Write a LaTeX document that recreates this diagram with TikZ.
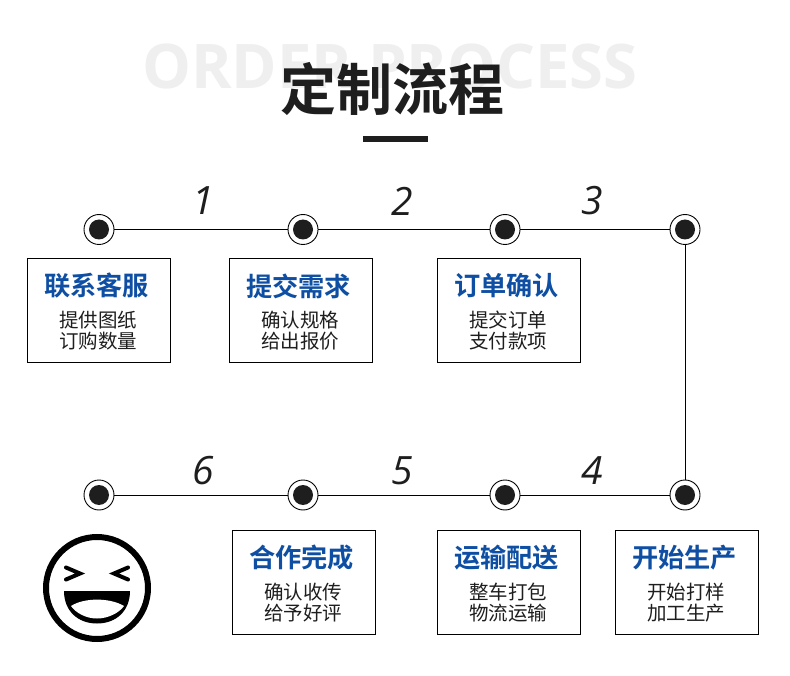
\documentclass[tikz,border=0pt]{standalone}
\usepackage{fontspec}
\setmainfont{Open Sans}
\newfontfamily\cjk{Noto Sans CJK SC}[BoldFont={Noto Sans CJK SC Bold},Scale=1]
\newfontfamily\num{Open Sans}
\definecolor{ink}{HTML}{1E1E1E}
\definecolor{headblue}{HTML}{0F4FA3}
\definecolor{ghost}{HTML}{EFEFEF}
\tikzset{
  stepdot/.style={circle,draw=black,line width=0.9pt,fill=white,minimum size=30pt,inner sep=0pt,
    path picture={\fill[ink] (path picture bounding box.center) circle (10pt);}},
  infobox/.style={draw=black,line width=1pt,fill=white,minimum width=143pt,minimum height=104pt,inner sep=0pt},
  link/.style={draw=black,line width=1pt},
  numlabel/.style={font=\fontsize{39}{39}\selectfont\num\itshape,text=ink,inner sep=0pt},
  boxhead/.style={font=\fontsize{26.2}{26.2}\selectfont\cjk\bfseries,text=headblue,inner sep=0pt},
  boxsub/.style={font=\fontsize{19.5}{21}\selectfont\cjk,text=ink,inner sep=0pt,align=center},
}
\begin{document}
\begin{tikzpicture}[x=1pt,y=-1pt]
\useasboundingbox[fill=white] (0,0) rectangle (790,676);
% title
\node[inner sep=0pt,text=ghost,font=\fontsize{61.5}{61.5}\selectfont\bfseries] (ghosttitle) at (390,67) {ORDER PROCESS};
\node[inner sep=0pt,text=ink,font=\fontsize{56}{56}\selectfont\cjk\bfseries] (title) at (392,89) {定制流程};
\fill[ink] (363,136) rectangle (428,142);
% step dots
\node[stepdot] (d1) at (99,229.5) {};
\node[stepdot] (d2) at (303,229.5) {};
\node[stepdot] (d3) at (505,229.5) {};
\node[stepdot] (d4) at (685,229.5) {};
\node[stepdot] (d5) at (685,495) {};
\node[stepdot] (d6) at (505,495) {};
\node[stepdot] (d7) at (303,495) {};
\node[stepdot] (d8) at (99,495) {};
% connectors
\draw[link] (d1) -- (d2);
\draw[link] (d2) -- (d3);
\draw[link] (d3) -- (d4);
\draw[link] (d4) -- (d5);
\draw[link] (d5) -- (d6);
\draw[link] (d6) -- (d7);
\draw[link] (d7) -- (d8);
% numbers
\node[numlabel] (n1) at (203,201) {1};
\node[numlabel] (n2) at (402,201) {2};
\node[numlabel] (n3) at (592,201) {3};
\node[numlabel] (n4) at (592,471) {4};
\node[numlabel] (n5) at (402,471) {5};
\node[numlabel] (n6) at (203,471) {6};
% boxes
\newcommand{\stepbox}[6]{%
  \node[infobox] (#1) at (#2,#3) {};
  \node[boxhead] (#1h) at (#2-2.5,#3-24.5) {#4};
  \node[boxsub] (#1a) at (#2-1,#3+10) {#5};
  \node[boxsub] (#1b) at (#2-1,#3+31) {#6};
}
\stepbox{b1}{99}{310.5}{联系客服}{提供图纸}{订购数量}
\stepbox{b2}{301}{310.5}{提交需求}{确认规格}{给出报价}
\stepbox{b3}{509}{310.5}{订单确认}{提交订单}{支付款项}
\stepbox{b4}{687}{582.5}{开始生产}{开始打样}{加工生产}
\stepbox{b5}{509}{582.5}{运输配送}{整车打包}{物流运输}
\stepbox{b6}{304}{582.5}{合作完成}{确认收传}{给予好评}
% face
\draw[black,line width=6pt] (97,588) circle (51pt);
\draw[black,line width=4pt,line cap=round,line join=miter] (66,567.5) -- (80,573.5) -- (66,579.5);
\draw[black,line width=4pt,line cap=round,line join=miter] (128,567.5) -- (114,573.5) -- (128,579.5);
\fill[black] (64,591) -- (130,591) .. controls (130,611) and (116,623.5) .. (97,623.5) .. controls (78,623.5) and (64,611) .. (64,591) -- cycle;
\fill[white] (71,606) .. controls (84,597.5) and (110,597.5) .. (124,606) .. controls (119,613) and (108,618.5) .. (97,618.5) .. controls (86,618.5) and (76,613) .. (71,606) -- cycle;
\end{tikzpicture}
\end{document}
